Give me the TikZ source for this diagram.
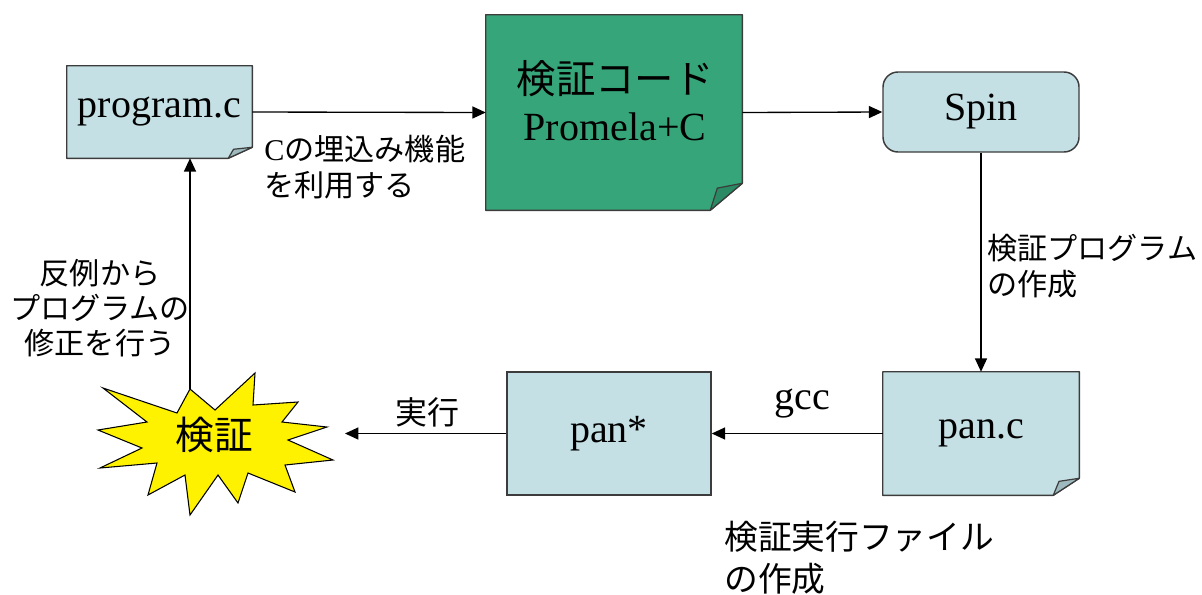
\documentclass[tikz,border=0pt]{standalone}
\usepackage{fontspec}
\setmainfont{Liberation Serif}
\newfontfamily\jp{Noto Sans CJK JP}
\usetikzlibrary{arrows.meta,calc,backgrounds}

\definecolor{boxblue}{RGB}{196,224,228}
\definecolor{flapblue}{RGB}{158,186,190}
\definecolor{codegreen}{RGB}{54,165,121}
\definecolor{flapgreen}{RGB}{42,138,100}
\definecolor{edgegray}{RGB}{60,60,60}

\def\px{0.75pt}

% paper sheet with a folded bottom-right corner, drawn behind node #1
% #2 fill, #3 flap fill, #4 fold width, #5 fold height
\newcommand\foldedsheet[5]{%
  \begin{pgfonlayer}{background}
    \filldraw[fill=#2, draw=edgegray, line width=1.1pt, line join=round]
      (#1.north west) -- (#1.north east) -- ($(#1.south east)+(0,-#5)$)
      -- ($(#1.south east)+(-#4,0)$) -- (#1.south west) -- cycle;
    \filldraw[fill=#3, draw=edgegray, line width=0.9pt, line join=round]
      ($(#1.south east)+(-#4,0)$) -- ($(#1.south east)+(-0.78*#4,-0.82*#5)$)
      -- ($(#1.south east)+(0,-#5)$) -- cycle;
  \end{pgfonlayer}}

\tikzset{
  sheet/.style={draw=none, inner sep=0pt},
  plainbox/.style={draw=edgegray, fill=boxblue, line width=1.1pt, inner sep=0pt},
  boxtext/.style={font=\fontsize{30}{36}\selectfont},
  note/.style={font=\jp\fontsize{22.6}{26.5}\selectfont, inner sep=0pt},
  arr/.style={line width=1pt, -{Triangle[length=10pt, width=9pt]}},
}

\begin{document}
\begin{tikzpicture}[x={(\px,0)}, y={(0,-\px)}]
  \useasboundingbox (0,0) rectangle (1202,594);

  % ---- boxes ----
  \node[sheet, boxtext, minimum width=185*\px, minimum height=92*\px] (prog) at (159.5,112) {program.c};
  \foldedsheet{prog}{boxblue}{flapblue}{24}{11}

  \node[sheet, minimum width=256*\px, minimum height=195*\px] (code) at (614,112.5) {};
  \foldedsheet{code}{codegreen}{flapgreen}{32}{27}
  \node[inner sep=0pt, align=center] (codelbl) at (615,101)
    {{\jp\fontsize{29.5}{40}\selectfont 検証コード}\\[11pt]{\fontsize{30}{36}\selectfont Promela+C}};

  \node[plainbox, boxtext, rounded corners=15*\px, minimum width=196*\px, minimum height=80*\px] (spin) at (981,112) {Spin};

  \node[sheet, boxtext, minimum width=196*\px, minimum height=123*\px] (panc) at (981,433.5) {pan.c};
  \foldedsheet{panc}{boxblue}{flapblue}{26}{17}

  \node[plainbox, boxtext, minimum width=204*\px, minimum height=123*\px] (panx) at (609,433.5) {pan*};

  % ---- verification burst ----
  \filldraw[fill=yellow, draw=black, line width=0.8pt, line join=miter]
    (103,388) -- (177,413) -- (190,389) -- (215,410) -- (255,373) -- (253,405)
    -- (298,402) -- (282,422) -- (327,427) -- (288,440) -- (333,460) -- (285,465)
    -- (295,492) -- (248,473) -- (238,503) -- (218,475) -- (190,515) -- (185,475)
    -- (148,495) -- (157,463) -- (100,468) -- (142,448) -- (98,430) -- (147,422) -- cycle;
  \node[inner sep=0pt, font=\jp\fontsize{29}{34}\selectfont] (verify) at (214,435) {検証};
  \coordinate (burstR) at (345,433.5);
  \coordinate (burstT) at (190,389);

  % ---- connectors ----
  \draw[arr] (prog.east) -- (code.west);
  \draw[arr] (code.east) -- (spin.west);
  \draw[arr] (spin.south) -- (panc.north);
  \draw[arr] (panc.west) -- (panx.east);
  \draw[arr] (panx.west) -- (burstR);
  \draw[arr] (burstT) -- (prog.south -| burstT);

  % ---- annotations ----
  \node[note, anchor=west, align=left] (embed) at (264,167)
    {{\rmfamily C}の埋込み機能\\を利用する};
  \node[note, anchor=west, align=left] (gen) at (987,266)
    {検証プログラム\\の作成};
  \node[boxtext, inner sep=0pt] (gcc) at (802,404) {gcc};
  \node[note, font=\jp\fontsize{24}{28}\selectfont] (run) at (427,412) {実行};
  \node[note, align=center] (fix) at (100,308)
    {反例から\\プログラムの\\修正を行う};
  \node[note, anchor=west, align=left, font=\jp\fontsize{25.3}{31.5}\selectfont] (exe) at (724,558)
    {検証実行ファイル\\の作成};
\end{tikzpicture}
\end{document}
